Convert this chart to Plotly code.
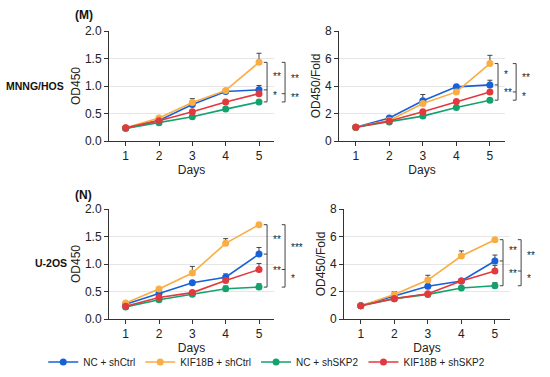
import plotly.graph_objects as go

days = [1, 2, 3, 4, 5]
series_names = ["NC + shCtrl", "KIF18B + shCtrl", "NC + shSKP2", "KIF18B + shSKP2"]
colors = ["#1761d8", "#f9ad42", "#13a26c", "#e23a3c"]

# MNNG/HOS OD450
m_od = {
    "NC + shCtrl": [0.23, 0.375, 0.665, 0.90, 0.93],
    "KIF18B + shCtrl": [0.24, 0.42, 0.70, 0.92, 1.43],
    "NC + shSKP2": [0.23, 0.33, 0.44, 0.58, 0.71],
    "KIF18B + shSKP2": [0.24, 0.37, 0.53, 0.71, 0.86],
}
m_od_err = {
    "NC + shCtrl": [0, 0, 0, 0, 0.08],
    "KIF18B + shCtrl": [0, 0, 0.07, 0, 0.165],
    "NC + shSKP2": [0, 0, 0, 0, 0],
    "KIF18B + shSKP2": [0, 0, 0, 0, 0],
}
# MNNG/HOS fold
m_fold = {
    "NC + shCtrl": [1.0, 1.67, 2.92, 3.94, 4.08],
    "KIF18B + shCtrl": [1.0, 1.50, 2.73, 3.57, 5.63],
    "NC + shSKP2": [1.0, 1.38, 1.81, 2.44, 2.97],
    "KIF18B + shSKP2": [1.0, 1.45, 2.13, 2.87, 3.57],
}
m_fold_err = {
    "NC + shCtrl": [0, 0, 0.46, 0, 0.34],
    "KIF18B + shCtrl": [0, 0, 0, 0, 0.60],
    "NC + shSKP2": [0, 0, 0, 0, 0],
    "KIF18B + shSKP2": [0, 0, 0, 0, 0],
}
# U-2OS OD450
u_od = {
    "NC + shCtrl": [0.27, 0.47, 0.66, 0.76, 1.18],
    "KIF18B + shCtrl": [0.29, 0.545, 0.836, 1.376, 1.715],
    "NC + shSKP2": [0.22, 0.35, 0.45, 0.55, 0.58],
    "KIF18B + shSKP2": [0.23, 0.39, 0.48, 0.70, 0.90],
}
u_od_err = {
    "NC + shCtrl": [0, 0, 0, 0.06, 0.12],
    "KIF18B + shCtrl": [0, 0, 0.12, 0.085, 0],
    "NC + shSKP2": [0, 0, 0, 0.05, 0.06],
    "KIF18B + shSKP2": [0, 0, 0, 0, 0.11],
}
# U-2OS fold
u_fold = {
    "NC + shCtrl": [0.97, 1.65, 2.38, 2.76, 4.22],
    "KIF18B + shCtrl": [0.97, 1.79, 2.83, 4.58, 5.77],
    "NC + shSKP2": [0.97, 1.48, 1.79, 2.25, 2.42],
    "KIF18B + shSKP2": [0.97, 1.48, 1.84, 2.76, 3.49],
}
u_fold_err = {
    "NC + shCtrl": [0, 0.35, 0, 0, 0.43],
    "KIF18B + shCtrl": [0, 0, 0.35, 0.37, 0],
    "NC + shSKP2": [0, 0, 0, 0, 0.22],
    "KIF18B + shSKP2": [0, 0, 0, 0, 0.41],
}

# significance brackets: (top series, middle series, bottom series, upper label, lower label)
m_od_sig = [("KIF18B + shCtrl", "NC + shCtrl", "NC + shSKP2", "**", "*"),
            ("KIF18B + shCtrl", "KIF18B + shSKP2", "NC + shSKP2", "**", "**")]
m_fold_sig = [("KIF18B + shCtrl", "NC + shCtrl", "NC + shSKP2", "*", "**"),
              ("KIF18B + shCtrl", "KIF18B + shSKP2", "NC + shSKP2", "**", "*")]
u_od_sig = [("KIF18B + shCtrl", "NC + shCtrl", "NC + shSKP2", "**", "**"),
            ("KIF18B + shCtrl", "KIF18B + shSKP2", "NC + shSKP2", "***", "*")]
u_fold_sig = [("KIF18B + shCtrl", "NC + shCtrl", "NC + shSKP2", "**", "**"),
              ("KIF18B + shCtrl", "KIF18B + shSKP2", "NC + shSKP2", "**", "*")]

W, H = 550, 377
FONT = "Liberation Sans, Arial, sans-serif"

panels = [
    (m_od, m_od_err, m_od_sig, 1, (109, 274), (31, 141), 2.0, 0.5, ".1f", "OD450"),
    (m_fold, m_fold_err, m_fold_sig, 2, (339, 505), (31, 141), 8, 2, "d", "OD450/Fold"),
    (u_od, u_od_err, u_od_sig, 3, (109, 274), (209, 319), 2.0, 0.5, ".1f", "OD450"),
    (u_fold, u_fold_err, u_fold_sig, 4, (344, 510), (209, 319), 8, 2, "d", "OD450/Fold"),
]

fig = go.Figure()
layout = dict(width=W, height=H, margin=dict(l=0, r=0, t=0, b=0, autoexpand=False),
              paper_bgcolor="white", plot_bgcolor="white",
              font=dict(family=FONT, size=12, color="#222"))
shapes = []
annotations = []

for data, err, sig, k, xpx, ypx, ymax, dtick, fmt, ytitle in panels:
    xa = "x" if k == 1 else f"x{k}"
    ya = "y" if k == 1 else f"y{k}"
    for name, col in zip(series_names, colors):
        fig.add_trace(go.Scatter(
            x=days, y=data[name], name=name, mode="lines+markers",
            line=dict(color=col, width=1.6),
            marker=dict(color=col, size=7),
            error_y=dict(type="data", array=err[name], arrayminus=[0] * 5,
                         symmetric=False, color="#444", thickness=1, width=2.5),
            xaxis=xa, yaxis=ya, showlegend=(k == 1), cliponaxis=False,
        ))
    xkey = "xaxis" if k == 1 else f"xaxis{k}"
    ykey = "yaxis" if k == 1 else f"yaxis{k}"
    layout[xkey] = dict(domain=[xpx[0] / W, xpx[1] / W], anchor=ya, automargin=False,
                        range=[0.5, 5.45], tickvals=days, ticks="outside",
                        ticklen=4, tickcolor="#333", showline=True,
                        linecolor="#333", linewidth=1, showgrid=False,
                        zeroline=False, tickfont=dict(size=12, color="#222"),
                        title=dict(text="Days", font=dict(size=12), standoff=1))
    layout[ykey] = dict(domain=[1 - ypx[1] / H, 1 - ypx[0] / H], anchor=xa, automargin=False,
                        range=[0, ymax], dtick=dtick, tickformat=fmt,
                        ticks="outside", ticklen=4, tickcolor="#333",
                        showline=True, linecolor="#333", linewidth=1,
                        showgrid=True, gridcolor="#e6e6e6", gridwidth=1,
                        zeroline=False, tickfont=dict(size=12, color="#222"),
                        title=dict(text=ytitle, font=dict(size=12), standoff=1))
    xd = f"{xa} domain"
    yd = f"{ya} domain"
    for bx, (top, mid, bot, lab1, lab2) in zip([0.958, 1.067], sig):
        yt = data[top][-1] / ymax
        ym = data[mid][-1] / ymax
        yb = data[bot][-1] / ymax
        cap = 0.02
        line = dict(color="#444", width=1)
        shapes.append(dict(type="line", xref=xd, yref=yd, x0=bx, x1=bx, y0=yb, y1=yt, line=line))
        for yy in (yt, ym, yb):
            shapes.append(dict(type="line", xref=xd, yref=yd, x0=bx - cap, x1=bx, y0=yy, y1=yy, line=line))
        for lab, yy in ((lab1, (yt + ym) / 2), (lab2, (ym + yb) / 2)):
            annotations.append(dict(text=lab, xref=xd, yref=yd, x=bx + 0.025, y=yy,
                                    xanchor="left", yanchor="middle", showarrow=False,
                                    font=dict(size=10, color="#222")))

for text, x, y in [("<b>(M)</b>", 73, 15), ("<b>(N)</b>", 73, 195)]:
    annotations.append(dict(text=text, xref="paper", yref="paper", x=x / W, y=1 - y / H,
                            xanchor="left", yanchor="middle", showarrow=False,
                            font=dict(size=12, color="#111")))
for text, x, y in [("<b>MNNG/HOS</b>", 35, 86), ("<b>U-2OS</b>", 51, 263)]:
    annotations.append(dict(text=text, xref="paper", yref="paper", x=x / W, y=1 - y / H,
                            xanchor="center", yanchor="middle", showarrow=False,
                            font=dict(size=10.5, color="#111")))

layout["shapes"] = shapes
layout["annotations"] = annotations
layout["legend"] = dict(orientation="h", x=0.485, xanchor="center", y=1 - 362 / H,
                        yanchor="middle", font=dict(size=10, color="#222"),
                        itemwidth=30, tracegroupgap=0, bgcolor="rgba(0,0,0,0)")
fig.update_layout(**layout)
fig.write_html("out.html", config={"displayModeBar": False},
               post_script="document.body.style.margin='0';document.body.style.overflow='hidden';")
